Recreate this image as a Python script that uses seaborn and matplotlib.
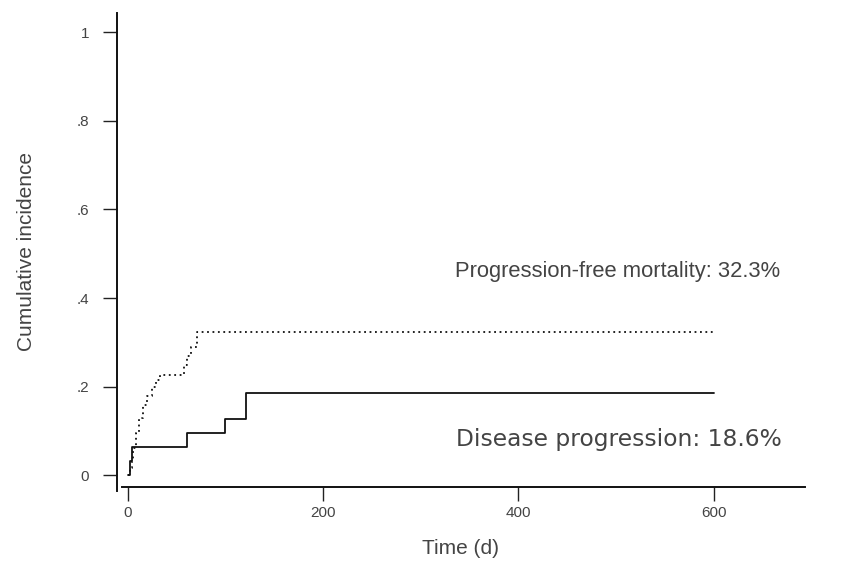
import matplotlib
matplotlib.use("Agg")
import matplotlib.pyplot as plt
import pandas as pd
import seaborn as sns

# cumulative incidence step data (days, proportion)
pfm_days = [0, 2, 4, 6, 9, 12, 16, 20, 25, 29, 33, 58, 61, 65, 71, 600]
pfm_inc = [0, 0.016, 0.032, 0.062, 0.095, 0.13, 0.16, 0.18, 0.20, 0.215, 0.227,
           0.25, 0.27, 0.29, 0.323, 0.323]

prog_days = [0, 2, 4, 61, 100, 121, 600]
prog_inc = [0, 0.032, 0.064, 0.096, 0.128, 0.186, 0.186]

x_ticks = [0, 200, 400, 600]
y_ticks = [0, 0.2, 0.4, 0.6, 0.8, 1.0]
y_ticklabels = ["0", ".2", ".4", ".6", ".8", "1"]

pfm = pd.DataFrame({"time": pfm_days, "inc": pfm_inc})
prog = pd.DataFrame({"time": prog_days, "inc": prog_inc})

sns.set_style("ticks")
plt.rcParams["font.family"] = ["Liberation Sans", "DejaVu Sans"]

fig = plt.figure(figsize=(8.47, 5.65), dpi=100)
ax = fig.add_axes([0.138, 0.131, 0.812, 0.846])

sns.lineplot(data=pfm, x="time", y="inc", ax=ax, color="#111111",
             linewidth=1.3, linestyle=(0, (1, 2)), drawstyle="steps-post",
             estimator=None, sort=False)
sns.lineplot(data=prog, x="time", y="inc", ax=ax, color="#111111",
             linewidth=1.3, drawstyle="steps-post",
             estimator=None, sort=False)

ax.set_xlim(-11, 693)
ax.set_ylim(-0.035, 1.043)
ax.spines["bottom"].set_position(("data", -0.025))
ax.spines["bottom"].set_bounds(-6, 693)
ax.spines["top"].set_visible(False)
ax.spines["right"].set_visible(False)
for s in ["left", "bottom"]:
    ax.spines[s].set_linewidth(1.4)
    ax.spines[s].set_color("#111111")

ax.set_xticks(x_ticks)
ax.set_yticks(y_ticks)
ax.set_yticklabels(y_ticklabels)
ax.tick_params(axis="both", length=10, width=1.0, color="#222222",
               labelsize=11, labelcolor="#444444")
ax.tick_params(axis="x", pad=4)
ax.tick_params(axis="y", pad=10)

ax.set_xlabel("Time (d)", fontsize=15, color="#444444", labelpad=14)
ax.set_ylabel("Cumulative incidence", fontsize=15, color="#444444", labelpad=29)

ax.text(335, 0.459, "Progression-free mortality: 32.3%", fontsize=15.8,
        color="#444444", va="center", ha="left")
ax.text(336, 0.08, "Disease progression: 18.6%", fontsize=16.8,
        family=["DejaVu Sans"], color="#444444", va="center", ha="left")

fig.savefig("out.png", dpi=100)
